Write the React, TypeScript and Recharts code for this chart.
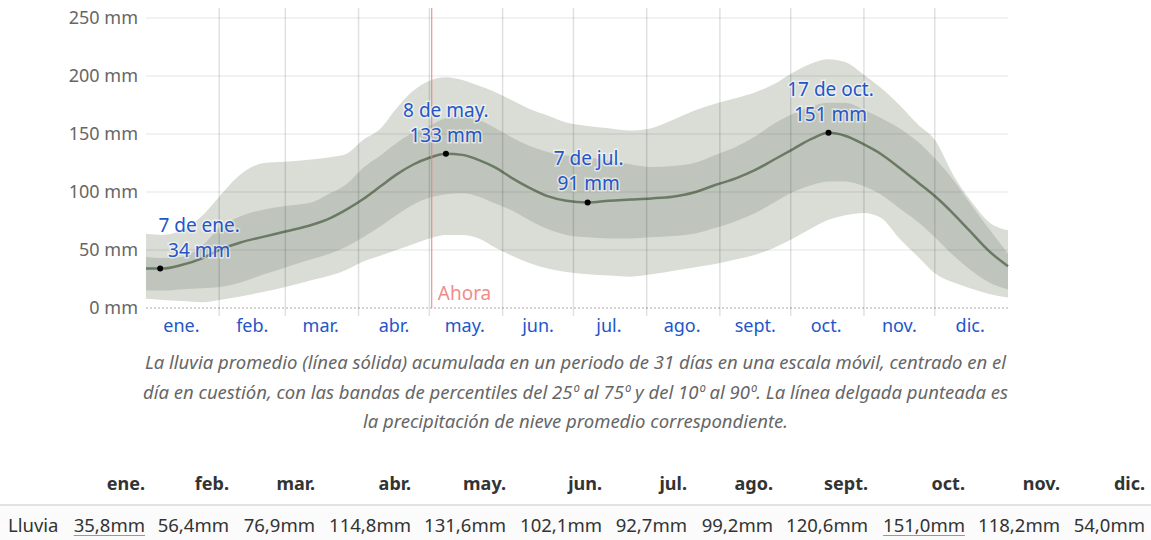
import {
  ComposedChart, Area, Line, XAxis, YAxis, ReferenceLine, ReferenceDot,
} from "recharts"

// day of year (0 = 1 ene.) and rainfall in mm (31-day moving sum)
const DAYS = [0, 7, 15, 24, 31, 40, 50, 59, 70, 78, 85, 92, 99, 106, 113, 120, 127, 134, 141, 148, 155, 162, 170, 178, 187, 196, 205, 214, 223, 232, 241, 250, 258, 266, 274, 282, 289, 296, 304, 311, 319, 327, 334, 342, 349, 357, 365]
const MEAN = [34, 34, 37, 43, 50, 56.5, 61.5, 66, 71.5, 77.5, 85, 94, 104.5, 115, 123.5, 129.5, 133, 132, 127.5, 121, 112, 104, 96.5, 92.5, 91, 92.5, 93.5, 94.5, 96, 99.5, 106, 112, 119, 128, 137, 146, 151, 148.5, 141, 133, 121, 108, 96.5, 81, 66, 49, 36]
const P10 = [8, 7, 6, 5, 7, 10, 14, 18, 24, 28, 33, 40, 45, 50, 55, 60, 63, 63, 60, 52, 45, 39, 34, 31, 29, 28, 27, 29, 32, 35, 38, 42, 46, 52, 60, 69, 76, 80, 82, 78, 60, 44, 30, 22, 17, 12, 9]
const P25 = [15, 15, 16, 17, 18, 22, 29, 35, 42, 47, 53, 61, 70, 80, 89, 95, 98, 99, 96, 90, 84, 76, 68, 63, 61, 60, 60, 61, 62, 64, 69, 75, 82, 91, 100, 106, 109, 109, 105, 98, 86, 74, 61, 45, 33, 22, 16]
const P75 = [44, 43, 44, 54, 69, 79, 85, 88, 91, 99, 107, 121, 131, 142, 151, 157, 163.5, 165, 162, 155, 147, 140, 134.5, 131.5, 130, 127, 124, 121.5, 122.5, 125, 132, 139, 148, 159, 167.5, 174, 177, 177, 171, 164, 155, 143, 129, 110, 90, 68, 47]
const P90 = [64, 63, 67, 80, 96, 115, 125, 126, 128, 130, 133, 145, 154, 172, 187, 196, 199, 196.5, 191.5, 186, 179, 172, 166, 160, 157, 155, 153, 155, 162, 170, 176, 181, 186, 193, 203, 211, 214.5, 212, 201, 190, 175, 158, 145, 114, 93, 74, 67]

const MONTHS = ["ene.", "feb.", "mar.", "abr.", "may.", "jun.", "jul.", "ago.", "sept.", "oct.", "nov.", "dic."]
const MONTH_MIDS = [15, 45, 74, 105, 135, 166, 196, 227, 258, 288, 319, 349]
const MONTH_STARTS = [0, 31, 59, 90, 120, 151, 181, 212, 243, 273, 304, 334, 365]
const Y_TICKS = [0, 50, 100, 150, 200, 250]
const NOW_DAY = 121

const PEAK_DAYS = [6, 127, 187, 289]
const PEAK_VALUES = [34, 133, 91, 151]
const PEAK_DATES = ["7 de ene.", "8 de may.", "7 de jul.", "17 de oct."]

const MONTHLY_RAIN = ["35,8mm", "56,4mm", "76,9mm", "114,8mm", "131,6mm", "102,1mm", "92,7mm", "99,2mm", "120,6mm", "151,0mm", "118,2mm", "54,0mm"]
const UNDERLINED = [0, 9]

const CAPTION = [
  "La lluvia promedio (línea sólida) acumulada en un periodo de 31 días en una escala móvil, centrado en el",
  "día en cuestión, con las bandas de percentiles del 25º al 75º y del 10º al 90º. La línea delgada punteada es",
  "la precipitación de nieve promedio correspondiente.",
]

const FONT = "'Noto Sans', 'Open Sans', sans-serif"
const COL_WIDTHS = [75, 84, 86, 96, 95, 96, 85, 86, 95, 97, 95, 85]
const LABEL_DX = [39, 0, 1, 2]

const data = DAYS.map((d, i) => ({
  day: d,
  mean: MEAN[i],
  outer: [P10[i], P90[i]],
  inner: [P25[i], P75[i]],
}))

function peakLabel(i: number) {
  return (props: any) => {
    const vb = props.viewBox || {}
    const cx = vb.x + (vb.width || 0) / 2 + LABEL_DX[i]
    const cy = vb.y + (vb.height || 0) / 2
    const style = {
      fill: "#2456c8", fontSize: 19, fontFamily: FONT,
      stroke: "rgba(255,255,255,0.55)", strokeWidth: 3, paintOrder: "stroke" as const,
    }
    return (
      <g>
        <text x={cx} y={cy - 37} textAnchor="middle" style={style}>{PEAK_DATES[i]}</text>
        <text x={cx} y={cy - 12} textAnchor="middle" style={style}>{PEAK_VALUES[i]} mm</text>
      </g>
    )
  }
}

export default function App() {
  return (
    <div style={{ position: "absolute", left: 0, top: 0, width: 1151, height: 540, background: "#fff", fontFamily: FONT }}>
      <ComposedChart width={1151} height={340} data={data} margin={{ top: 18, right: 0, left: 0, bottom: 0 }}>
        <XAxis
          dataKey="day" type="number" domain={[0, 365]} ticks={MONTH_MIDS}
          tickFormatter={(v: number) => MONTHS[MONTH_MIDS.indexOf(v)]}
          axisLine={false} tickLine={false} tickSize={0} tickMargin={11} height={32}
          tick={{ fill: "#2456c8", fontSize: 18, fontFamily: FONT }} interval={0}
        />
        <YAxis
          yAxisId="l" orientation="left" width={146} domain={[0, 250]} ticks={Y_TICKS}
          tickFormatter={(v: number) => `${v} mm`} axisLine={false} tickLine={false} tickSize={0} tickMargin={8}
          tick={{ fill: "#666", fontSize: 18, fontFamily: FONT }}
        />
        <YAxis
          yAxisId="r" orientation="right" width={143} domain={[0, 250]} ticks={Y_TICKS}
          tickFormatter={(v: number) => `${v} mm`} axisLine={false} tickLine={false} tickSize={0} tickMargin={8}
          tick={{ fill: "#666", fontSize: 18, fontFamily: FONT, textAnchor: "start" }}
        />
        <Area yAxisId="l" type="monotone" dataKey="outer" stroke="none" fill="#d9ddd6" fillOpacity={1} isAnimationActive={false} />
        <Area yAxisId="l" type="monotone" dataKey="inner" stroke="none" fill="#bfc5bc" fillOpacity={1} isAnimationActive={false} />
        <Line yAxisId="l" type="monotone" dataKey="mean" stroke="#6b7a64" strokeWidth={2.5} dot={false} isAnimationActive={false} />
        {Y_TICKS.slice(1).map((t) => (
          <ReferenceLine key={"h" + t} yAxisId="l" y={t} stroke="rgba(0,0,0,0.07)" strokeWidth={1.5} />
        ))}
        <ReferenceLine yAxisId="l" y={0} stroke="#aaa" strokeDasharray="2 2" />
        {MONTH_STARTS.slice(1, 12).map((s) => (
          <ReferenceLine
            key={"v" + s} yAxisId="l" ifOverflow="visible"
            segment={[{ x: s, y: -7 }, { x: s, y: 258.6 }]}
            stroke="rgba(0,0,0,0.12)" strokeWidth={1.5}
          />
        ))}
        <ReferenceLine
          yAxisId="l" ifOverflow="visible" segment={[{ x: NOW_DAY, y: 0 }, { x: NOW_DAY, y: 258.6 }]}
          stroke="#ef7b7b" strokeWidth={1}
          label={{ value: "Ahora", position: "insideBottomLeft", fill: "#f28b8b", fontSize: 19, fontFamily: FONT, offset: 6, dy: -2 }}
        />
        {PEAK_DAYS.map((d, i) => (
          <ReferenceDot key={"p" + d} yAxisId="l" x={d} y={PEAK_VALUES[i]} r={3} fill="#000" stroke="none" label={peakLabel(i)} />
        ))}
      </ComposedChart>

      <div style={{ position: "absolute", top: 347, left: 0, width: 1151, textAlign: "center", fontStyle: "italic", color: "#666", fontSize: 18.5, lineHeight: "29.5px", whiteSpace: "nowrap" }}>
        {CAPTION.map((l) => <div key={l}>{l}</div>)}
      </div>

      <div style={{ position: "absolute", top: 468, left: 0, width: 1151, color: "#333", fontSize: 18.5 }}>
        <div style={{ display: "flex", height: 30, alignItems: "center", fontWeight: "bold", fontSize: 18 }}>
          <div style={{ width: 70 }} />
          {MONTHS.map((m, i) => (
            <div key={m} style={{ width: COL_WIDTHS[i], textAlign: "right" }}>{m}</div>
          ))}
        </div>
        <div style={{ height: 2, background: "#e2e2e2", marginTop: 6 }} />
        <div style={{ display: "flex", height: 37, alignItems: "center", background: "#fbfbfb" }}>
          <div style={{ width: 70, paddingLeft: 8, boxSizing: "border-box" }}>Lluvia</div>
          {MONTHLY_RAIN.map((v, i) => (
            <div key={i} style={{ width: COL_WIDTHS[i], textAlign: "right", whiteSpace: "nowrap" }}>
              <span style={UNDERLINED.includes(i) ? { textDecoration: "underline", textDecorationColor: "#999", textUnderlineOffset: 3 } : undefined}>{v}</span>
            </div>
          ))}
        </div>
      </div>
    </div>
  )
}
